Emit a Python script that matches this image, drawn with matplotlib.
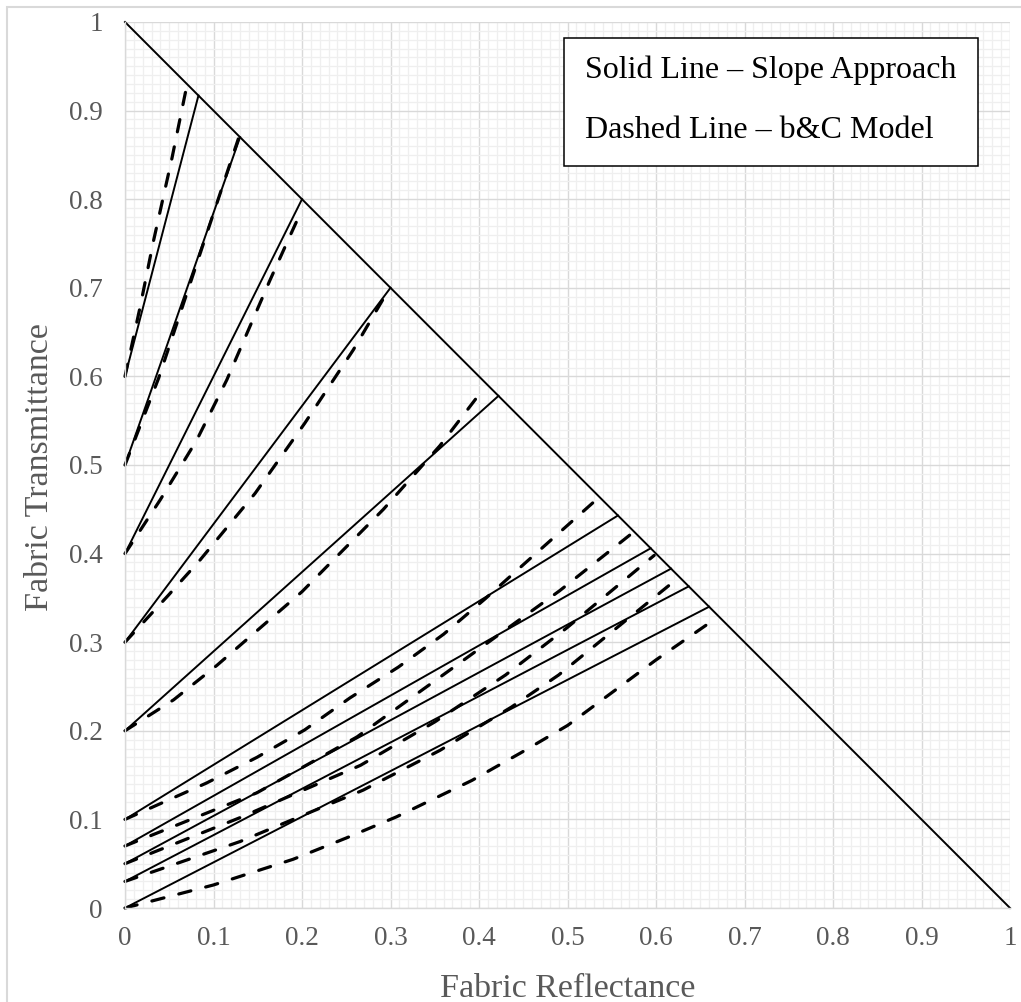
import matplotlib
matplotlib.use('Agg')
import matplotlib.pyplot as plt
from matplotlib.ticker import MultipleLocator, FuncFormatter
from matplotlib.patches import Rectangle

plt.rcParams['font.family'] = ['Liberation Serif', 'DejaVu Serif']

# limit line: T = 1 - R
limit_r = [0.0, 1.0]
limit_t = [1.0, 0.0]

# slope approach: straight lines from the intercept to the limit line
slope_t0 = [0.6, 0.5, 0.4, 0.3, 0.2, 0.1, 0.07, 0.05, 0.03, 0.0]
slope_end_r = [0.083, 0.13, 0.2, 0.3, 0.422, 0.557, 0.594, 0.617, 0.637, 0.66]
slope_end_t = [0.917, 0.87, 0.8, 0.7, 0.578, 0.443, 0.406, 0.383, 0.363, 0.34]

# b&C model curves
bc_r = [
    [0.0, 0.017, 0.032, 0.053, 0.069],
    [0.0, 0.038, 0.07, 0.1, 0.128],
    [0.0, 0.04, 0.081, 0.115, 0.141, 0.164, 0.188, 0.199],
    [0.0, 0.049, 0.085, 0.147, 0.203, 0.258, 0.298],
    [0.0, 0.055, 0.104, 0.2, 0.292, 0.356, 0.402],
    [0.0, 0.092, 0.149, 0.203, 0.254, 0.309, 0.36, 0.407, 0.454, 0.535],
    [0.0, 0.149, 0.262, 0.376, 0.491, 0.573],
    [0.0, 0.13, 0.266, 0.35, 0.43, 0.499, 0.598],
    [0.0, 0.13, 0.269, 0.356, 0.437, 0.49, 0.622],
    [0.0, 0.1, 0.19, 0.25, 0.307, 0.392, 0.447, 0.5, 0.6, 0.665],
]
bc_t = [
    [0.6, 0.678, 0.752, 0.846, 0.924],
    [0.5, 0.598, 0.694, 0.784, 0.868],
    [0.4, 0.461, 0.528, 0.596, 0.656, 0.709, 0.762, 0.786],
    [0.3, 0.353, 0.393, 0.468, 0.547, 0.63, 0.698],
    [0.2, 0.235, 0.274, 0.357, 0.45, 0.522, 0.582],
    [0.1, 0.141, 0.17, 0.201, 0.237, 0.272, 0.309, 0.349, 0.391, 0.463],
    [0.07, 0.13, 0.193, 0.275, 0.358, 0.423],
    [0.05, 0.102, 0.161, 0.21, 0.263, 0.316, 0.398],
    [0.03, 0.075, 0.133, 0.178, 0.227, 0.263, 0.37],
    [0.0, 0.026, 0.055, 0.079, 0.103, 0.144, 0.175, 0.206, 0.28, 0.325],
]

W, H = 1021, 1002
fig = plt.figure(figsize=(W / 100, H / 100), dpi=100)
ax = fig.add_axes([125 / W, 94 / H, 885 / W, 886 / H])

ax.set_xlim(0, 1)
ax.set_ylim(0, 1)
for axis in (ax.xaxis, ax.yaxis):
    axis.set_major_locator(MultipleLocator(0.1))
    axis.set_minor_locator(MultipleLocator(0.01))
    axis.set_major_formatter(FuncFormatter(lambda v, p: f'{v:g}'))
ax.grid(which='minor', color='#efefef', lw=0.9)
ax.grid(which='major', color='#d9d9d9', lw=1.0)
ax.set_axisbelow(True)
ax.tick_params(which='both', length=0, labelsize=19.5, labelcolor='#595959')
ax.tick_params(axis='x', pad=13)
ax.tick_params(axis='y', pad=16)
for side in ('top', 'right'):
    ax.spines[side].set_visible(False)
for side in ('left', 'bottom'):
    ax.spines[side].set_color('#d9d9d9')
    ax.spines[side].set_linewidth(1.0)

ax.plot(limit_r, limit_t, color='black', lw=1.4, clip_on=False)

for t0, r1, t1 in zip(slope_t0, slope_end_r, slope_end_t):
    ax.plot([0, r1], [t0, t1], color='black', lw=1.4, clip_on=False)

for r, t in zip(bc_r, bc_t):
    ax.plot(r, t, color='black', lw=2.3, dashes=(3.9, 4.8),
            dash_capstyle='round', clip_on=False)

fig.text(567.5 / W, 1 - 997 / H, 'Fabric Reflectance', ha='center',
         va='baseline', fontsize=24.5, color='#595959')
fig.text(40 / W, 1 - 467 / H, 'Fabric Transmittance', ha='center',
         va='center', rotation=90, fontsize=24.5, color='#595959')

# legend box
fig.patches.append(Rectangle((564 / W, 1 - 166 / H), 414 / W, 128 / H,
                             transform=fig.transFigure, facecolor='white',
                             edgecolor='black', lw=1.1, zorder=5))
fig.text(585 / W, 1 - 78 / H, 'Solid Line \u2013 Slope Approach',
         va='baseline', fontsize=23, color='black', zorder=6)
fig.text(585 / W, 1 - 138 / H, 'Dashed Line \u2013 b&C Model',
         va='baseline', fontsize=23, color='black', zorder=6)

# chart area border
fig.patches.append(Rectangle((7 / W, -0.5), 2, 1.5 - 7 / H,
                             transform=fig.transFigure, fill=False,
                             edgecolor='#d9d9d9', lw=1.5))

fig.savefig('out.png', dpi=100)
